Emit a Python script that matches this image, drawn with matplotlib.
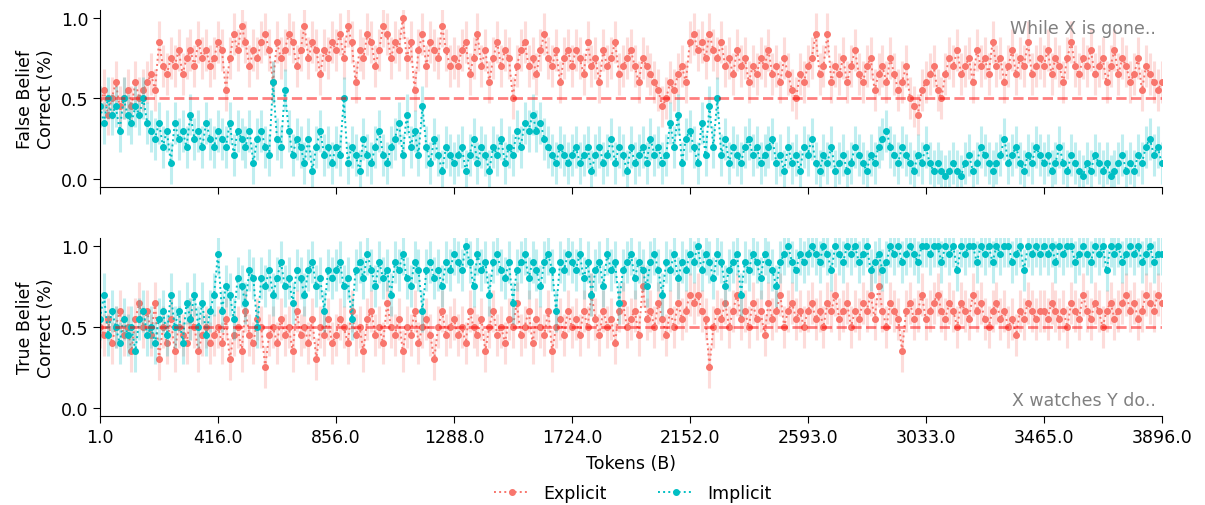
import matplotlib
matplotlib.use('Agg')
import matplotlib.pyplot as plt
import numpy as np

EXPLICIT = '#F8766D'
IMPLICIT = '#00BFC4'
NOTE = '#808080'

tick_tokens = [1.0, 416.0, 856.0, 1288.0, 1724.0, 2152.0, 2593.0, 3033.0, 3465.0, 3896.0]

# false belief panel ("While X is gone..")
fb_explicit = [
    0.45, 0.55, 0.4, 0.5, 0.6, 0.45, 0.5, 0.55, 0.45, 0.6, 0.5, 0.55, 0.6, 0.65, 0.55, 0.85, 0.7, 0.65, 0.75, 0.7, 0.8, 0.65, 0.75, 0.8, 0.7, 0.85, 0.75, 0.8, 0.7, 0.75,
    0.85, 0.8, 0.55, 0.75, 0.9, 0.8, 0.95, 0.85, 0.7, 0.8, 0.75, 0.85, 0.9, 0.8, 0.6, 0.85, 0.75, 0.8, 0.9, 0.85, 0.7, 0.8, 0.95, 0.75, 0.85, 0.8, 0.65, 0.8, 0.75, 0.85,
    0.8, 0.9, 0.75, 0.95, 0.85, 0.6, 0.8, 0.75, 0.9, 0.85, 0.7, 0.8, 0.95, 0.9, 0.75, 0.85, 0.8, 1.0, 0.75, 0.85, 0.55, 0.8, 0.9, 0.7, 0.85, 0.8, 0.75, 0.95, 0.8, 0.7,
    0.75, 0.7, 0.8, 0.85, 0.65, 0.75, 0.9, 0.7, 0.8, 0.6, 0.75, 0.85, 0.7, 0.8, 0.75, 0.5, 0.7, 0.8, 0.85, 0.7, 0.75, 0.65, 0.8, 0.9, 0.75, 0.7, 0.8, 0.6, 0.75, 0.8,
    0.7, 0.8, 0.75, 0.65, 0.85, 0.7, 0.75, 0.6, 0.8, 0.7, 0.75, 0.85, 0.65, 0.7, 0.75, 0.8, 0.7, 0.6, 0.75, 0.7, 0.65, 0.6, 0.55, 0.45, 0.5, 0.6, 0.55, 0.65, 0.7, 0.6,
    0.85, 0.9, 0.8, 0.85, 0.75, 0.9, 0.8, 0.75, 0.85, 0.7, 0.75, 0.65, 0.8, 0.7, 0.75, 0.6, 0.7, 0.65, 0.75, 0.7, 0.8, 0.65, 0.7, 0.6, 0.75, 0.65, 0.55, 0.5, 0.65, 0.6,
    0.7, 0.75, 0.9, 0.65, 0.7, 0.9, 0.6, 0.7, 0.65, 0.75, 0.6, 0.7, 0.8, 0.65, 0.6, 0.7, 0.75, 0.55, 0.65, 0.7, 0.6, 0.75, 0.65, 0.55, 0.6, 0.7, 0.5, 0.45, 0.4, 0.55,
    0.6, 0.65, 0.7, 0.55, 0.5, 0.65, 0.75, 0.7, 0.8, 0.65, 0.7, 0.75, 0.6, 0.8, 0.7, 0.75, 0.65, 0.85, 0.7, 0.75, 0.6, 0.7, 0.8, 0.65, 0.75, 0.7, 0.85, 0.65, 0.7, 0.75,
    0.7, 0.8, 0.65, 0.75, 0.7, 0.6, 0.75, 0.85, 0.7, 0.65, 0.75, 0.7, 0.8, 0.65, 0.7, 0.75, 0.6, 0.7, 0.8, 0.65, 0.75, 0.7, 0.6, 0.65, 0.75, 0.55, 0.7, 0.65, 0.6, 0.55,
    0.6,
]
fb_implicit = [
    0.45, 0.35, 0.5, 0.4, 0.45, 0.3, 0.5, 0.4, 0.35, 0.45, 0.4, 0.5, 0.35, 0.3, 0.25, 0.35, 0.2, 0.3, 0.1, 0.35, 0.25, 0.3, 0.2, 0.4, 0.25, 0.3, 0.2, 0.35, 0.25, 0.2,
    0.3, 0.25, 0.2, 0.35, 0.15, 0.3, 0.25, 0.2, 0.3, 0.1, 0.25, 0.3, 0.2, 0.15, 0.6, 0.25, 0.2, 0.55, 0.3, 0.15, 0.25, 0.2, 0.1, 0.25, 0.05, 0.2, 0.3, 0.15, 0.2, 0.1,
    0.2, 0.15, 0.5, 0.1, 0.2, 0.15, 0.05, 0.25, 0.15, 0.1, 0.2, 0.3, 0.15, 0.1, 0.2, 0.25, 0.35, 0.15, 0.4, 0.2, 0.3, 0.15, 0.45, 0.2, 0.1, 0.25, 0.15, 0.05, 0.2, 0.15,
    0.1, 0.15, 0.2, 0.05, 0.15, 0.25, 0.1, 0.2, 0.15, 0.05, 0.2, 0.15, 0.25, 0.1, 0.2, 0.15, 0.3, 0.2, 0.35, 0.3, 0.4, 0.3, 0.35, 0.25, 0.2, 0.15, 0.1, 0.2, 0.15, 0.1,
    0.15, 0.2, 0.1, 0.15, 0.2, 0.05, 0.15, 0.2, 0.1, 0.15, 0.25, 0.1, 0.2, 0.15, 0.05, 0.2, 0.1, 0.15, 0.2, 0.1, 0.25, 0.15, 0.2, 0.1, 0.15, 0.35, 0.2, 0.4, 0.1, 0.25,
    0.3, 0.2, 0.1, 0.35, 0.15, 0.45, 0.2, 0.5, 0.15, 0.25, 0.1, 0.2, 0.15, 0.1, 0.2, 0.25, 0.15, 0.2, 0.1, 0.15, 0.2, 0.25, 0.1, 0.15, 0.05, 0.2, 0.1, 0.15, 0.05, 0.2,
    0.15, 0.25, 0.1, 0.05, 0.15, 0.1, 0.2, 0.05, 0.1, 0.15, 0.05, 0.1, 0.2, 0.15, 0.1, 0.05, 0.15, 0.1, 0.2, 0.25, 0.3, 0.2, 0.15, 0.1, 0.2, 0.15, 0.1, 0.05, 0.15, 0.1,
    0.2, 0.1, 0.05, 0.1, 0.05, 0.02, 0.05, 0.1, 0.05, 0.02, 0.1, 0.15, 0.05, 0.1, 0.2, 0.15, 0.1, 0.05, 0.1, 0.15, 0.25, 0.1, 0.15, 0.2, 0.1, 0.05, 0.15, 0.1, 0.2, 0.15,
    0.1, 0.15, 0.05, 0.1, 0.2, 0.1, 0.05, 0.15, 0.1, 0.05, 0.02, 0.1, 0.05, 0.15, 0.1, 0.05, 0.1, 0.02, 0.05, 0.1, 0.15, 0.05, 0.1, 0.05, 0.15, 0.1, 0.2, 0.25, 0.15, 0.2,
    0.1,
]

# true belief panel ("X watches Y do..")
tb_explicit = [
    0.5, 0.45, 0.55, 0.4, 0.5, 0.6, 0.45, 0.5, 0.35, 0.55, 0.65, 0.5, 0.6, 0.45, 0.65, 0.3, 0.5, 0.4, 0.55, 0.35, 0.5, 0.45, 0.4, 0.55, 0.5, 0.35, 0.45, 0.5, 0.4, 0.45,
    0.5, 0.4, 0.55, 0.3, 0.45, 0.5, 0.35, 0.6, 0.45, 0.4, 0.55, 0.5, 0.25, 0.45, 0.5, 0.4, 0.55, 0.45, 0.5, 0.35, 0.6, 0.45, 0.5, 0.4, 0.55, 0.3, 0.5, 0.45, 0.55, 0.4,
    0.45, 0.55, 0.5, 0.4, 0.6, 0.45, 0.5, 0.35, 0.55, 0.6, 0.45, 0.5, 0.4, 0.65, 0.5, 0.45, 0.55, 0.35, 0.5, 0.45, 0.6, 0.4, 0.5, 0.55, 0.45, 0.3, 0.5, 0.6, 0.45, 0.5,
    0.55, 0.45, 0.5, 0.4, 0.6, 0.5, 0.45, 0.55, 0.35, 0.5, 0.6, 0.45, 0.5, 0.4, 0.55, 0.5, 0.65, 0.45, 0.5, 0.6, 0.4, 0.55, 0.5, 0.45, 0.6, 0.35, 0.5, 0.55, 0.45, 0.6,
    0.5, 0.55, 0.45, 0.6, 0.5, 0.7, 0.55, 0.45, 0.6, 0.5, 0.55, 0.4, 0.6, 0.65, 0.5, 0.55, 0.6, 0.45, 0.75, 0.55, 0.6, 0.5, 0.65, 0.55, 0.45, 0.6, 0.5, 0.65, 0.55, 0.6,
    0.7, 0.65, 0.7, 0.6, 0.55, 0.25, 0.5, 0.6, 0.55, 0.65, 0.5, 0.6, 0.7, 0.55, 0.6, 0.5, 0.65, 0.55, 0.6, 0.45, 0.65, 0.55, 0.6, 0.7, 0.5, 0.6, 0.65, 0.55, 0.6, 0.5,
    0.6, 0.65, 0.55, 0.6, 0.5, 0.65, 0.6, 0.7, 0.55, 0.6, 0.65, 0.5, 0.6, 0.55, 0.65, 0.6, 0.7, 0.55, 0.75, 0.6, 0.5, 0.65, 0.6, 0.55, 0.35, 0.6, 0.65, 0.55, 0.6, 0.7,
    0.55, 0.6, 0.65, 0.7, 0.6, 0.55, 0.65, 0.6, 0.5, 0.65, 0.6, 0.55, 0.7, 0.6, 0.65, 0.55, 0.5, 0.6, 0.65, 0.55, 0.6, 0.5, 0.55, 0.45, 0.6, 0.55, 0.65, 0.6, 0.55, 0.6,
    0.6, 0.55, 0.65, 0.6, 0.55, 0.6, 0.5, 0.65, 0.6, 0.55, 0.7, 0.6, 0.55, 0.65, 0.6, 0.5, 0.6, 0.65, 0.55, 0.6, 0.65, 0.7, 0.6, 0.65, 0.55, 0.6, 0.7, 0.65, 0.6, 0.7,
    0.65,
]
tb_implicit = [
    0.55, 0.7, 0.45, 0.6, 0.5, 0.4, 0.55, 0.45, 0.5, 0.35, 0.55, 0.6, 0.45, 0.5, 0.4, 0.55, 0.6, 0.45, 0.7, 0.5, 0.6, 0.4, 0.65, 0.55, 0.7, 0.5, 0.65, 0.45, 0.6, 0.7,
    0.95, 0.6, 0.75, 0.7, 0.55, 0.8, 0.75, 0.65, 0.85, 0.8, 0.5, 0.8, 0.75, 0.85, 0.7, 0.8, 0.9, 0.75, 0.8, 0.65, 0.85, 0.8, 0.7, 0.85, 0.9, 0.75, 0.8, 0.6, 0.85, 0.8,
    0.85, 0.9, 0.75, 0.8, 0.55, 0.85, 0.9, 0.8, 0.95, 0.85, 0.75, 0.9, 0.8, 0.85, 0.7, 0.9, 0.85, 0.95, 0.8, 0.75, 0.9, 0.85, 0.6, 0.85, 0.9, 0.8, 0.85, 0.75, 0.9, 0.85,
    0.95, 0.9, 0.85, 1.0, 0.9, 0.75, 0.95, 0.85, 0.9, 0.7, 0.9, 0.95, 0.85, 0.8, 0.9, 0.65, 0.85, 0.9, 0.95, 0.8, 0.9, 0.85, 0.75, 0.9, 0.95, 0.85, 0.6, 0.9, 0.85, 0.95,
    0.9, 0.85, 0.95, 0.8, 0.9, 0.7, 0.85, 0.9, 0.75, 0.95, 0.85, 0.9, 0.65, 0.85, 0.9, 0.95, 0.8, 0.9, 0.85, 0.75, 0.9, 0.95, 0.85, 0.7, 0.9, 0.85, 0.95, 0.8, 0.9, 0.85,
    0.95, 0.9, 1.0, 0.85, 0.95, 0.9, 0.8, 0.95, 0.9, 0.75, 0.85, 0.9, 0.95, 0.7, 0.9, 0.85, 0.95, 0.9, 0.8, 0.95, 0.9, 0.85, 0.75, 0.9, 0.95, 1.0, 0.9, 0.85, 0.95, 0.9,
    0.95, 1.0, 0.95, 0.9, 1.0, 0.95, 0.85, 1.0, 0.95, 0.9, 1.0, 0.95, 1.0, 0.9, 0.95, 1.0, 0.85, 0.9, 0.95, 0.85, 0.9, 1.0, 0.95, 1.0, 0.9, 0.95, 1.0, 0.95, 0.9, 1.0,
    1.0, 0.95, 1.0, 1.0, 0.9, 1.0, 0.95, 1.0, 0.85, 1.0, 0.95, 1.0, 1.0, 0.9, 1.0, 0.95, 1.0, 0.9, 1.0, 0.95, 1.0, 1.0, 0.9, 0.95, 1.0, 0.85, 1.0, 0.95, 1.0, 0.95,
    1.0, 0.95, 1.0, 0.9, 1.0, 0.95, 1.0, 1.0, 0.9, 0.95, 1.0, 0.95, 0.9, 1.0, 0.95, 1.0, 0.85, 1.0, 0.95, 1.0, 0.9, 0.95, 1.0, 0.95, 1.0, 0.9, 0.95, 1.0, 0.9, 0.95,
    0.95,
]

err_half = 0.13
chance = 0.5

fig = plt.figure(figsize=(12.05, 5.06), dpi=100)
ax_top = fig.add_axes([0.083, 0.6285, 0.881, 0.35])
ax_bot = fig.add_axes([0.083, 0.176, 0.881, 0.352])

panels = [
    (ax_top, fb_explicit, fb_implicit, 'False Belief\nCorrect (%)', 'While X is gone..', 0.95, 'top'),
    (ax_bot, tb_explicit, tb_implicit, 'True Belief\nCorrect (%)', 'X watches Y do..', 0.04, 'bottom'),
]

n = len(fb_explicit)
x = np.arange(n)
step = (n - 1) // (len(tick_tokens) - 1)
tick_pos = np.arange(len(tick_tokens)) * step

for ax, expl, impl, ylab, note, note_y, note_va in panels:
    for vals, color, label in [(expl, EXPLICIT, 'Explicit'), (impl, IMPLICIT, 'Implicit')]:
        ax.errorbar(x, vals, yerr=err_half, fmt='none', ecolor=color, elinewidth=2.2, alpha=0.25)
        ax.plot(x, vals, linestyle=':', marker='o', markersize=4, linewidth=1.4,
                color=color, label=label)
    ax.axhline(chance, color='red', linestyle='--', linewidth=2, alpha=0.5)
    ax.set_xlim(0, n - 1)
    ax.set_ylim(-0.05, 1.05)
    ax.set_yticks([0.0, 0.5, 1.0])
    ax.set_xticks(tick_pos)
    ax.set_ylabel(ylab, fontsize=12.5)
    ax.tick_params(labelsize=12.5, length=5)
    ax.spines['top'].set_visible(False)
    ax.spines['right'].set_visible(False)
    ax.text(0.995, note_y, note, transform=ax.transAxes, color=NOTE, fontsize=12.5,
            ha='right', va=note_va)

ax_top.set_xticklabels([])
ax_bot.set_xticklabels([f'{t:.1f}' for t in tick_tokens])
ax_bot.set_xlabel('Tokens (B)', fontsize=12.5, labelpad=6)

handles, labels = ax_bot.get_legend_handles_labels()
fig.legend(handles, labels, loc='lower center', ncol=2, frameon=False, fontsize=12.5,
           bbox_to_anchor=(0.525, -0.025), columnspacing=3)

plt.savefig('out.png', dpi=100, facecolor='white')
print("Saved out.png")
